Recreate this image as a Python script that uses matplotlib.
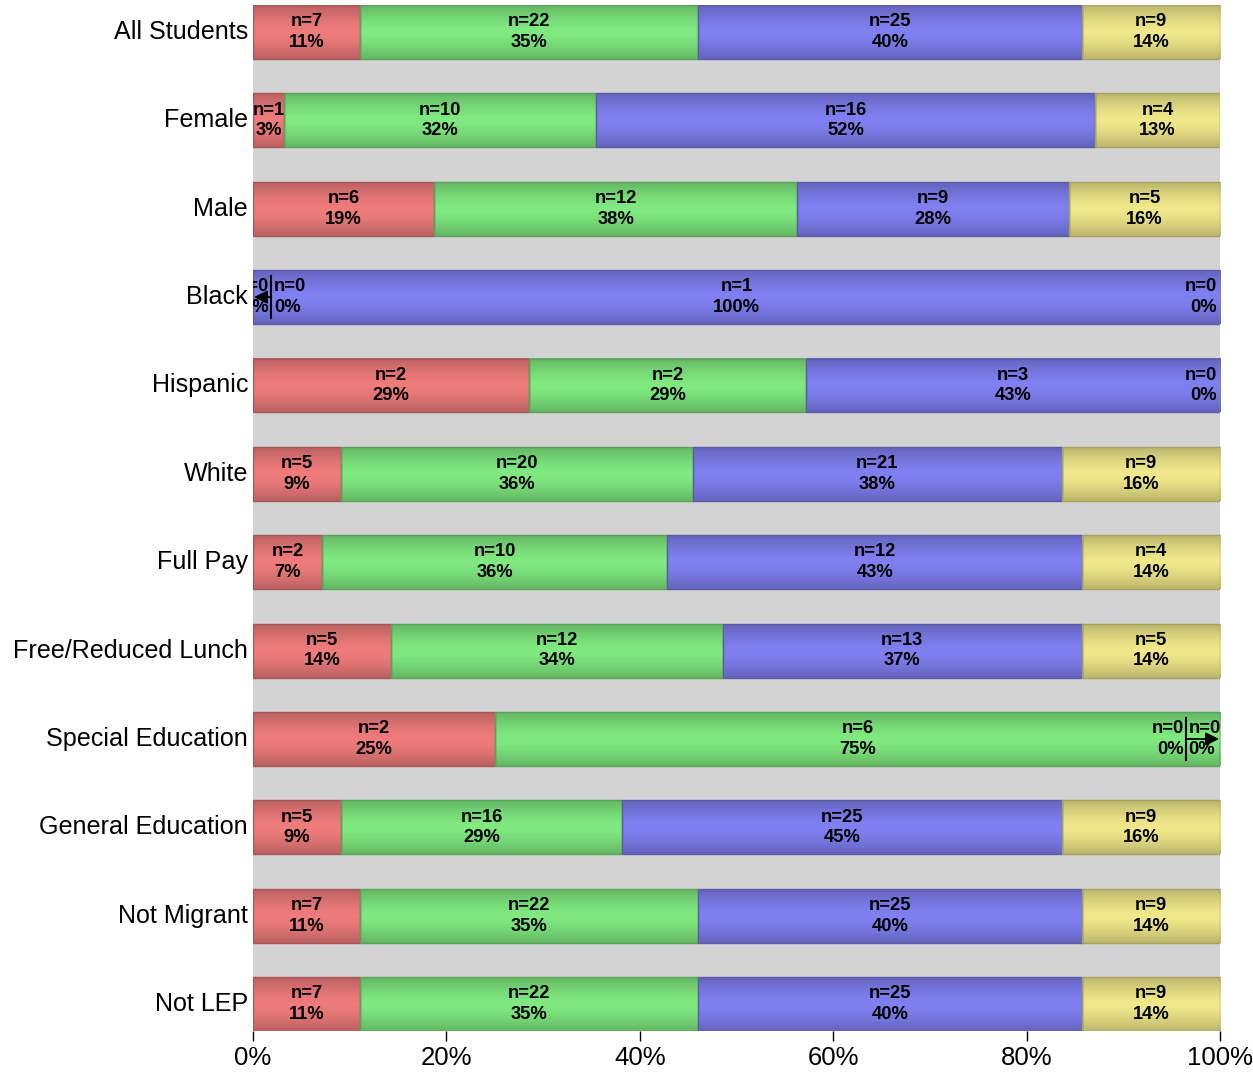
import numpy as np
import matplotlib
matplotlib.use("Agg")
import matplotlib.pyplot as plt
from matplotlib.colors import to_rgb

plt.rcParams['font.family'] = ['Liberation Sans', 'DejaVu Sans']

groups = ["All Students", "Female", "Male", "Black", "Hispanic", "White",
          "Full Pay", "Free/Reduced Lunch", "Special Education",
          "General Education", "Not Migrant", "Not LEP"]
red_n = [7, 1, 6, 0, 2, 5, 2, 5, 2, 5, 7, 7]
green_n = [22, 10, 12, 0, 2, 20, 10, 12, 6, 16, 22, 22]
blue_n = [25, 16, 9, 1, 3, 21, 12, 13, 0, 25, 25, 25]
yellow_n = [9, 4, 5, 0, 0, 9, 4, 5, 0, 9, 9, 9]

colors = ["#f07c7c", "#80ea80", "#8080f2", "#f0e88a"]
x_ticks = [0, 20, 40, 60, 80, 100]

counts = np.array([red_n, green_n, blue_n, yellow_n], dtype=float).T
totals = counts.sum(axis=1)
pcts = counts / totals[:, None] * 100

# vertical shading profile: darker at top/bottom, light in the middle
t = np.linspace(-1, 1, 64)
shade = 1 - 0.22 * np.abs(t) ** 1.5

fig = plt.figure(figsize=(12.53, 10.72), dpi=100)
ax = fig.add_axes([0.2019, 0.0382, 0.7718, 0.9571])
ax.set_facecolor("#d3d3d3")

bar_h = 0.61
y = np.arange(len(groups))
left = np.zeros(len(groups))
for k in range(4):
    base = np.array(to_rgb(colors[k]))
    dark = base * 0.7
    bars = ax.barh(y, pcts[:, k], left=left, height=bar_h, facecolor="none",
                   edgecolor=dark, linewidth=1, zorder=3)
    grad = shade[:, None, None] * base[None, None, :]
    for b in bars:
        if b.get_width() <= 0:
            continue
        x0, y0 = b.get_x(), b.get_y()
        ax.imshow(grad, extent=(x0, x0 + b.get_width(), y0 + b.get_height(), y0),
                  aspect="auto", zorder=2, interpolation="bilinear")
    left += pcts[:, k]

lab_kw = dict(fontsize=13.2, fontweight="bold", va="center", zorder=5,
              linespacing=1.28, clip_on=True)


def label(i, k):
    return "n=%d\n%d%%" % (counts[i, k], int(pcts[i, k] + 0.5))


def split_marker(i, sx, tip, k_left, k_right):
    ax.text(sx - 0.25, i, label(i, k_left), ha="right", **lab_kw)
    ax.text(sx + 0.25, i, label(i, k_right), ha="left", **lab_kw)
    ax.plot([sx, sx], [i - 0.24, i + 0.24], color="black", lw=1.5, zorder=5)
    ax.annotate("", xy=(tip, i), xytext=(sx, i),
                arrowprops=dict(arrowstyle="-|>", color="black", lw=1.3,
                                mutation_scale=20, shrinkA=0, shrinkB=0),
                zorder=5)


for i in range(len(groups)):
    starts = np.concatenate([[0], np.cumsum(pcts[i])[:-1]])
    zero = [k for k in range(4) if counts[i, k] == 0]
    for k in range(4):
        if counts[i, k] > 0:
            ax.text(starts[k] + pcts[i, k] / 2, i, label(i, k), ha="center", **lab_kw)
    left_zero = [k for k in zero if starts[k] < 1e-9]
    right_zero = [k for k in zero if starts[k] > 100 - 1e-9]
    if len(left_zero) == 2:
        split_marker(i, 1.9, 0.1, left_zero[0], left_zero[1])
    if len(right_zero) == 2:
        split_marker(i, 96.5, 99.9, right_zero[0], right_zero[1])
    elif len(right_zero) == 1:
        ax.text(99.7, i, label(i, right_zero[0]), ha="right", **lab_kw)

ax.set_xlim(0, 100)
ax.set_ylim(len(groups) - 1 + bar_h / 2, -bar_h / 2)
ax.set_yticks(y)
ax.set_yticklabels(groups, fontsize=18.1, va="center")
ax.set_xticks(x_ticks)
ax.set_xticklabels(["%d%%" % v for v in x_ticks], fontsize=18.5)
ax.tick_params(axis="y", length=0, pad=3.5)
ax.tick_params(axis="x", length=7, width=1, pad=4)
for s in ax.spines.values():
    s.set_visible(False)

fig.savefig("out.png", dpi=100)
